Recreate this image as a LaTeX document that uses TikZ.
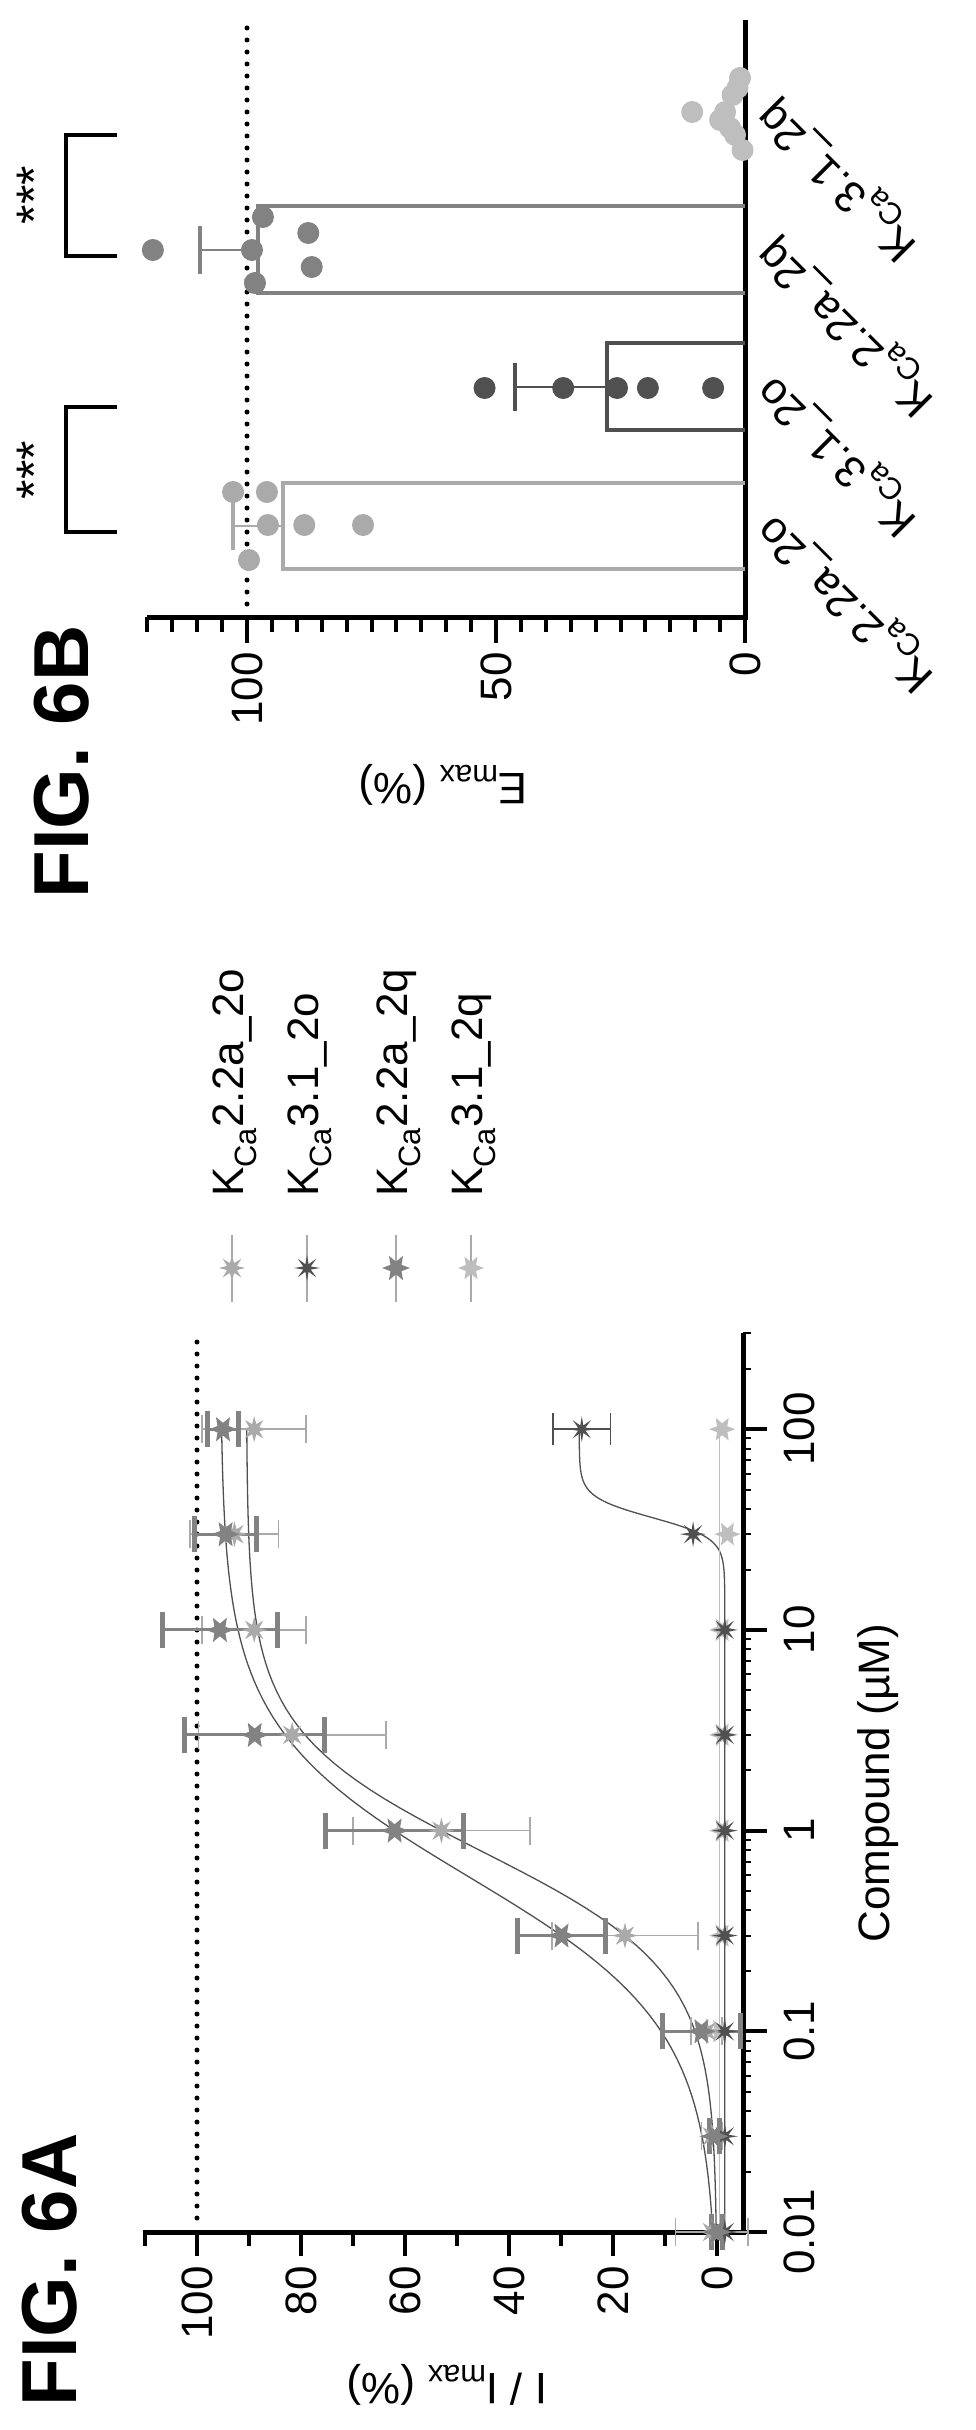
\documentclass[tikz,border=0pt]{standalone}
\usepackage{fontspec}
\setmainfont{Liberation Sans}
\usetikzlibrary{shapes.geometric}
\definecolor{serLight}{RGB}{170,170,170}
\definecolor{serDark}{RGB}{80,80,80}
\definecolor{serMid}{RGB}{130,130,130}
\definecolor{serPale}{RGB}{190,190,190}
\newcommand{\lbl}{\fontsize{44}{48}\selectfont}
\newcommand{\figfont}{\fontsize{78}{80}\selectfont\bfseries}
% value -> horizontal position, log concentration -> vertical position
\newcommand{\pxA}[1]{717-5.2*(#1)}
\newcommand{\pyA}[1]{2232-200.7*((#1)+2)}
\newcommand{\pxB}[1]{745-4.98*(#1)}
\begin{document}
\begin{tikzpicture}[x=1pt, y=-1pt]
  \tikzset{
    axisline/.style={line width=5pt, black},
    tickmark/.style={line width=4pt, black},
    dotline/.style={line width=5pt, line cap=round, dash pattern=on 0pt off 12pt},
    mkA/.style={star, star points=8, star point ratio=2.4, fill=serLight, minimum size=26pt, inner sep=0pt},
    mkB/.style={star, star points=8, star point ratio=3.2, fill=serDark, minimum size=26pt, inner sep=0pt},
    mkC/.style={star, star points=6, star point ratio=2.2, fill=serMid, minimum size=28pt, inner sep=0pt, rotate=90},
    mkD/.style={star, star points=6, star point ratio=2.2, fill=serPale, minimum size=26pt, inner sep=0pt, rotate=90},
    tlbl/.style={font=\lbl, inner sep=0pt, rotate=90},
    dotB/.style={circle, minimum size=22pt, inner sep=0pt},
    barB/.style={line width=3.5pt},
    fitline/.style={line width=1.3pt, serDark}
  }
  \path[fill=white, use as bounding box] (0,0) rectangle (976,2430);

  %% ---------- FIG. 6A ----------
  \node[font=\figfont, rotate=90] (figA) at (50,2270) {FIG. 6A};
  % axes
  \coordinate (a0) at (743,2232);
  \coordinate (aTop) at (143,2232);
  \coordinate (aEnd) at (743,1333);
  \draw[axisline] (aTop) -- (a0) -- (aEnd);
  \foreach \v in {0,20,...,100}{
    \draw[tickmark] ({\pxA{\v}},2232) -- ({\pxA{\v}},2256);
    \node[tlbl, anchor=east] (ya\v) at ({\pxA{\v}},2266) {\v};
  }
  \foreach \v in {10,30,...,110}
    \draw[tickmark] ({\pxA{\v}},2232) -- ({\pxA{\v}},2246);
  \foreach \L/\t [count=\i] in {-2/0.01,-1/0.1,0/1,1/10,2/100}{
    \draw[tickmark] (743,{\pyA{\L}}) -- (767,{\pyA{\L}});
    \node[tlbl, anchor=north] (xa\i) at (784,{\pyA{\L}}) {\t};
  }
  \foreach \d in {-2,-1,0,1,2}
    \foreach \k in {2,...,9}{
      \pgfmathsetmacro{\LL}{\d+log10(\k)}
      \ifdim\LL pt<2.48pt
        \draw[line width=2pt] (743,{\pyA{\LL}}) -- (751,{\pyA{\LL}});
      \fi
    }
  \node[tlbl] (xlabA) at (878,1783) {Compound (µM)};
  \node[font=\lbl, inner sep=0pt, rotate=180] (ylabA) at (447,2385) {I / I\textsubscript{max} (\%)};
  \draw[dotline] ({\pxA{100}},2218) -- ({\pxA{100}},1342);

  % fitted curves
  \draw[fitline] plot[domain=-2:2, samples=90] ({\pxA{95.5/(1+10^(1.165*(-0.23-\x)))}},{\pyA{\x}});
  \draw[fitline] plot[domain=-2:2, samples=90] ({\pxA{90.5/(1+10^(1.46*(-0.103-\x)))}},{\pyA{\x}});
  \draw[fitline] ({\pxA{-1.5}},{\pyA{-2}}) -- ({\pxA{-1.5}},{\pyA{1.2}})
    plot[domain=1.2:2, samples=60] ({\pxA{-1.5+28/(1+10^(8.5*(1.56-\x)))}},{\pyA{\x}});
  \draw[fitline, serPale] ({\pxA{-0.5}},{\pyA{-2}}) -- ({\pxA{-0.5}},{\pyA{2}});

  % error bars and markers
  \foreach \L/\v/\e [count=\i] in {-2/1/7,-1.523/1/2,-1/2/3,-0.523/17.7/14,0/53/17,0.477/81.7/18,1/89/10,1.477/92.8/8.5,2/89/10}{
    \draw[serLight, line width=1.5pt] ({\pxA{\v-\e}},{\pyA{\L}}) -- ({\pxA{\v+\e}},{\pyA{\L}});
    \foreach \s in {-1,1}
      \draw[serLight, line width=1.5pt] ({\pxA{\v+\s*\e}},{\pyA{\L}-14}) -- ({\pxA{\v+\s*\e}},{\pyA{\L}+14});
  }
  \foreach \L/\v/\e [count=\i] in {-2/0/1,-1.523/0.5/1,-1/3/7.5,-0.523/29.9/8.4,0/62/13.3,0.477/88.9/13.5,1/95.6/11,1.477/94.5/6,2/95/3}{
    \draw[serMid, line width=3pt] ({\pxA{\v-\e}},{\pyA{\L}}) -- ({\pxA{\v+\e}},{\pyA{\L}});
    \foreach \s in {-1,1}
      \draw[serMid, line width=5pt] ({\pxA{\v+\s*\e}},{\pyA{\L}-18}) -- ({\pxA{\v+\s*\e}},{\pyA{\L}+18});
  }
  \foreach \L/\v [count=\i] in {-2/0,-1.523/0.5,-1/-0.5,-0.523/-1,0/-1,0.477/-1,1/-1,1.477/-2,2/-1}
    \node[mkD] (d\i) at ({\pxA{\v}},{\pyA{\L}}) {};
  \foreach \L/\v [count=\i] in {-2/-1.5,-1.523/-1.5,-1/-1.5,-0.523/-1.5,0/-1.5,0.477/-1.5,1/-1.5,1.477/4.6,2/26}
    \node[mkB] (b\i) at ({\pxA{\v}},{\pyA{\L}}) {};
  \draw[serDark, line width=1.5pt] ({\pxA{20.5}},{\pyA{2}}) -- ({\pxA{31.5}},{\pyA{2}});
  \foreach \v in {20.5,31.5}
    \draw[serDark, line width=1.5pt] ({\pxA{\v}},{\pyA{2}-16}) -- ({\pxA{\v}},{\pyA{2}+16});
  \foreach \L/\v [count=\i] in {-2/1,-1.523/1,-1/2,-0.523/17.7,0/53,0.477/81.7,1/89,1.477/92.8,2/89}
    \node[mkA] (a\i) at ({\pxA{\v}},{\pyA{\L}}) {};
  \foreach \L/\v [count=\i] in {-2/0,-1.523/0.5,-1/3,-0.523/29.9,0/62,0.477/88.9,1/95.6,1.477/94.5,2/95}
    \node[mkC] (c\i) at ({\pxA{\v}},{\pyA{\L}}) {};

  % legend
  \foreach \x/\m/\t [count=\i] in {232/mkA/2.2a\_2o,307/mkB/3.1\_2o,396/mkC/2.2a\_2q,471/mkD/3.1\_2q}{
    \draw[serLight, line width=1.2pt] (\x,1235) -- (\x,1302);
    \node[\m] (lm\i) at (\x,1268) {};
    \node[tlbl, anchor=west] (lt\i) at (\x+3,1197) {K\textsubscript{Ca}\t};
  }

  %% ---------- FIG. 6B ----------
  \node[font=\figfont, rotate=90] (figB) at (62,762) {FIG. 6B};
  \coordinate (b0) at (745,617);
  \coordinate (bTop) at (147,617);
  \coordinate (bEnd) at (745,20);
  \draw[axisline] (bTop) -- (b0) -- (bEnd);
  \foreach \v in {0,5,...,120}
    \draw[tickmark] ({\pxB{\v}},617) -- ({\pxB{\v}},632);
  \foreach \v in {0,50,100}{
    \draw[tickmark] ({\pxB{\v}},617) -- ({\pxB{\v}},643);
    \node[tlbl, anchor=east] (yb\v) at ({\pxB{\v}},652) {\v};
  }
  \node[font=\lbl, inner sep=0pt, rotate=180] (ylabB) at (443,785) {E\textsubscript{max} (\%)};
  \draw[dotline] ({\pxB{100}},28) -- ({\pxB{100}},605);

  % bars
  \draw[barB, serLight] (745,483) -- ({\pxB{92.8}},483) -- ({\pxB{92.8}},569) -- (745,569);
  \draw[barB, serDark] (745,343) -- ({\pxB{27.7}},343) -- ({\pxB{27.7}},430) -- (745,430);
  \draw[barB, serMid] (745,206) -- ({\pxB{97.8}},206) -- ({\pxB{97.8}},293) -- (745,293);

  % error bars
  \foreach \c/\m/\u/\col in {526/92.8/102.8/serLight,387/27.7/46.2/serDark,250/97.8/109.4/serMid}{
    \draw[\col, line width=2.5pt] ({\pxB{\m}},\c) -- ({\pxB{\u}},\c);
    \draw[\col, line width=4pt] ({\pxB{\u}},\c-24) -- ({\pxB{\u}},\c+24);
  }

  % points
  \foreach \v/\y [count=\i] in {102.8/492,96/492,95.8/525,88.5/525,76.7/525,99.6/560}
    \node[dotB, fill=serLight] (p\i) at ({\pxB{\v}},\y) {};
  \foreach \v/\y [count=\i] in {52.3/388,36.5/388,25.7/388,19.5/388,6.4/388}
    \node[dotB, fill=serDark] (q\i) at ({\pxB{\v}},\y) {};
  \foreach \v/\y [count=\i] in {118.9/250,96.8/217,99/250,98.4/283,87.7/233,87/267}
    \node[dotB, fill=serMid] (r\i) at ({\pxB{\v}},\y) {};
  \foreach \v/\y [count=\i] in {10.6/112,1/78,2.5/95,4/112,5/120,2/135,0.5/150,1.5/88,3/128}
    \node[dotB, fill=serPale] (s\i) at ({\pxB{\v}},\y) {};

  % significance brackets
  \draw[line width=4.5pt] (117,407) -- (66,407) -- (66,532) -- (117,532);
  \draw[line width=4.5pt] (117,135) -- (66,135) -- (66,256) -- (117,256);
  \node[tlbl, font=\fontsize{50}{50}\selectfont] (sig1) at (34,470) {***};
  \node[tlbl, font=\fontsize{50}{50}\selectfont] (sig2) at (34,195) {***};

  % category labels
  \foreach \c/\t [count=\i] in {526/2.2a\_2o,387/3.1\_2o,250/2.2a\_2q,112/3.1\_2q}
    \node[font=\lbl, inner sep=0pt, rotate=135, anchor=east] (cat\i) at (768,\c-6) {K\textsubscript{Ca}\t};
\end{tikzpicture}
\end{document}
